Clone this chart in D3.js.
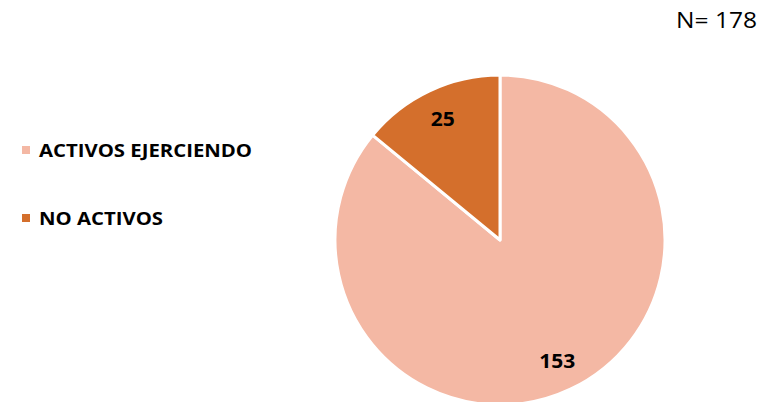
<!DOCTYPE html>
<html lang="es">
<head>
    <meta charset="UTF-8">
    <title>activos</title>
    <script src="https://cdn.jsdelivr.net/npm/d3@7"></script>
    <style>
        body { margin:0; background:#fff; }
        .lbl { font-family: "Open Sans", "Noto Sans", sans-serif; font-weight:700; fill:#000; }
    </style>
</head>
<body>
    <div id="chart"></div>
    <script>
        // datos
        var categorias = ["ACTIVOS EJERCIENDO", "NO ACTIVOS"]
        var valores = [153, 25]
        var colores = ["#F4B8A4", "#D46F2C"]
        var total = "N= 178"

        var W = 763, H = 402
        var svg = d3.select("#chart").append("svg")
            .attr("width", W).attr("height", H)

        var cx = 500, cy = 240, R = 165

        var pie = d3.pie().sort(null).value(d => d)
        var arcs = pie(valores)
        var arc = d3.arc().innerRadius(0).outerRadius(R)
        var labelArc = d3.arc().innerRadius(134).outerRadius(134)

        var g = svg.append("g").attr("transform", "translate(" + cx + "," + cy + ")")

        g.selectAll("path")
            .data(arcs)
            .enter()
            .append("path")
            .attr("d", arc)
            .attr("fill", (d, i) => colores[i])
            .attr("stroke", "#fff")
            .attr("stroke-width", 3)
            .attr("stroke-linejoin", "round")

        g.selectAll(".val")
            .data(arcs)
            .enter()
            .append("text")
            .attr("class", "lbl val")
            .attr("transform", d => "translate(" + labelArc.centroid(d) + ")")
            .attr("text-anchor", "middle")
            .attr("dy", "0.36em")
            .style("font-size", "19px")
            .attr("textLength", d => String(d.data).length * 12)
            .attr("lengthAdjust", "spacingAndGlyphs")
            .text(d => d.data)

        // leyenda
        var ley = svg.append("g")
        var ly = d3.scalePoint().domain(categorias).range([150, 218])
        var item = ley.selectAll(".item")
            .data(categorias)
            .enter()
            .append("g")
            .attr("transform", d => "translate(0," + ly(d) + ")")

        item.append("rect")
            .attr("x", 22).attr("y", -4)
            .attr("width", 8).attr("height", 8)
            .attr("fill", (d, i) => colores[i])

        var anchos = [213, 124]
        item.append("text")
            .attr("class", "lbl")
            .attr("x", 39).attr("y", 6.5)
            .style("font-size", "18.5px")
            .attr("textLength", (d, i) => anchos[i])
            .attr("lengthAdjust", "spacingAndGlyphs")
            .text(d => d)

        svg.append("text")
            .attr("x", 757).attr("y", 28)
            .attr("text-anchor", "end")
            .style("font-family", "'Open Sans', 'Noto Sans', sans-serif")
            .style("font-size", "22px")
            .attr("textLength", 81)
            .attr("lengthAdjust", "spacingAndGlyphs")
            .attr("fill", "#000")
            .text(total)
    </script>
</body>
</html>
